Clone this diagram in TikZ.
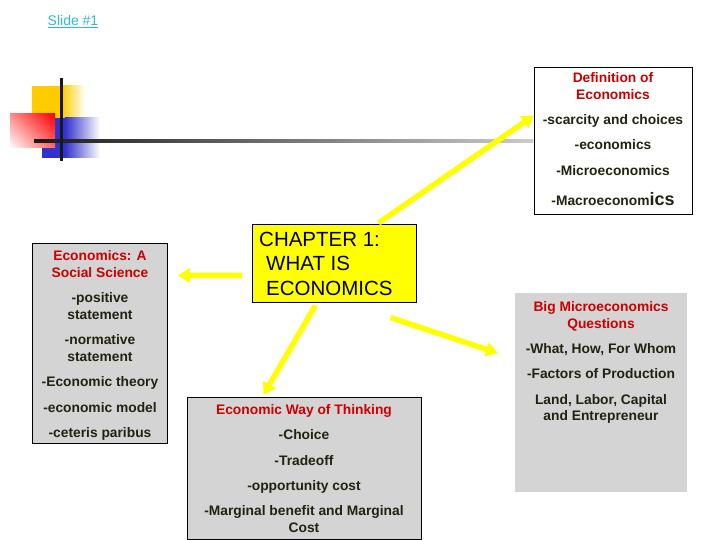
\documentclass[tikz,border=0pt]{standalone}
\usepackage{fontspec}
\setmainfont{Liberation Sans}
\usetikzlibrary{arrows.meta,calc,shadings}
\definecolor{hdred}{RGB}{204,0,0}
\definecolor{txtdark}{RGB}{34,34,17}
\definecolor{boxgray}{RGB}{212,212,212}
\definecolor{slidecyan}{RGB}{51,187,204}
\definecolor{decoyellow}{RGB}{255,204,0}
\definecolor{decored}{RGB}{255,0,0}
\definecolor{decoblue}{RGB}{51,51,204}
\definecolor{chapyellow}{RGB}{255,255,0}
\begin{document}
\begin{tikzpicture}[x=1pt,y=-1pt,
  ln/.style={anchor=base, font=\fontsize{13.8}{16}\selectfont\bfseries, text=txtdark, inner sep=0pt},
  hd/.style={ln, text=hdred},
  ch/.style={anchor=base west, font=\fontsize{20.5}{24}\selectfont, text=black, inner sep=0pt},
  boxg/.style={draw=black, line width=0.9pt, fill=boxgray, inner sep=0pt, anchor=north west},
  yarrow/.style={draw=chapyellow, line width=5.5pt, -{Triangle[length=12pt,width=14pt]}},
]
\useasboundingbox (0,0) rectangle (720,540);
\fill[white] (0,0) rectangle (720,540);

% slide label
\node[anchor=base, text=slidecyan, font=\fontsize{14}{16}\selectfont, inner sep=0pt] (slide) at (73,26) {\underline{Slide \#1}};

% decoration
\fill[decoyellow] (32,86) rectangle (62,119);
\shade[left color=decoyellow, right color=white] (62,86) rectangle (85,119);
\fill[decoblue] (42,118) rectangle (65,158);
\shade[left color=decoblue, right color=white] (65,118) rectangle (100,158);
\shade[upper right=decored, upper left=decored!45, lower right=decored!60, lower left=white] (10,114) rectangle (55,148);
\shade[left color=black!90, right color=black!20] (34,139.5) rectangle (533,142.5);
\draw[line width=3pt, black!90] (61,78) -- (61,161);

% boxes
\node[draw=black, line width=0.9pt, fill=white, inner sep=0pt, anchor=north west, minimum width=158pt, minimum height=147pt] (def) at (534,67) {};
\node[boxg, minimum width=135pt, minimum height=200pt] (soc) at (32,243) {};
\node[boxg, minimum width=234pt, minimum height=142pt] (think) at (187,397) {};
\node[fill=boxgray, inner sep=0pt, anchor=north west, minimum width=172pt, minimum height=199pt] (big) at (515,293) {};
\node[draw=black, line width=0.6pt, fill=chapyellow, inner sep=0pt, anchor=north west, minimum width=164pt, minimum height=78pt] (chap) at (252,224) {};

% chapter text
\node[ch] (c1) at (259,247) {CHAPTER 1:};
\node[ch] (c2) at (266,270) {WHAT IS};
\node[ch] (c3) at (266,295) {ECONOMICS};

% definition texts
\node[hd] (d1) at (613,83) {Definition of};
\node[hd] (d2) at (613,100) {Economics};
\node[ln] (d3) at (613,125) {-scarcity and choices};
\node[ln] (d4) at (613,150) {-economics};
\node[ln] (d5) at (613,176) {-Microeconomics};
\node[ln] (d6) at (613,206) {-Macroeconom{\fontsize{18}{18}\selectfont ics}};

% social science texts
\node[hd] (s1) at (100,260) {Economics: A};
\node[hd] (s2) at (100,277) {Social Science};
\node[ln] (s3) at (100,302) {-positive};
\node[ln] (s4) at (100,319) {statement};
\node[ln] (s5) at (100,344) {-normative};
\node[ln] (s6) at (100,361) {statement};
\node[ln] (s7) at (100,386) {-Economic theory};
\node[ln] (s8) at (100,412) {-economic model};
\node[ln] (s9) at (100,437) {-ceteris paribus};

% way of thinking texts
\node[hd] (t1) at (304,414) {Economic Way of Thinking};
\node[ln] (t2) at (304,439) {-Choice};
\node[ln] (t3) at (304,465) {-Tradeoff};
\node[ln] (t4) at (304,490) {-opportunity cost};
\node[ln] (t5) at (304,515) {-Marginal benefit and Marginal};
\node[ln] (t6) at (304,532) {Cost};

% big micro texts
\node[hd] (b1) at (601,311) {Big Microeconomics};
\node[hd] (b2) at (601,328) {Questions};
\node[ln] (b3) at (601,353) {-What, How, For Whom};
\node[ln] (b4) at (601,378) {-Factors of Production};
\node[ln] (b5) at (601,404) {Land, Labor, Capital};
\node[ln] (b6) at (601,420) {and Entrepreneur};

% arrows
\draw[yarrow] ($(chap.north east)+(-38,-1)$) -- ($(def.west)+(0,-25.5)$);
\draw[yarrow] ($(chap.west)+(-10,12)$) -- ($(soc.east)+(10,-68)$);
\draw[yarrow] ($(chap.south)+(-19,3)$) -- ($(think.north)+(-41,-2)$);
\draw[yarrow] ($(chap.south east)+(-26,15)$) -- ($(big.west)+(-17,-39.5)$);
\end{tikzpicture}
\end{document}
